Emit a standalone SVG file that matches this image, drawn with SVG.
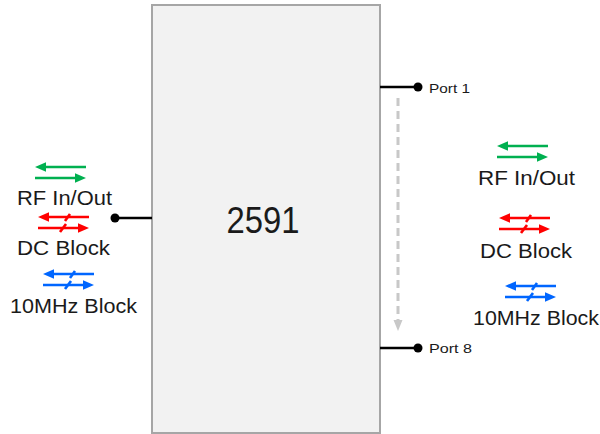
<svg xmlns="http://www.w3.org/2000/svg" xmlns:xlink="http://www.w3.org/1999/xlink" width="600" height="434" viewBox="0 0 600 434">
<style>
.lbl{font-family:"Liberation Sans",Arial,sans-serif;font-size:20px;fill:#1a1a1a}
.port{font-family:"Liberation Sans",Arial,sans-serif;font-size:13.5px;fill:#1a1a1a}
.ln{stroke:currentColor;stroke-width:2.6;fill:none}
.hd{fill:currentColor;stroke:none}
.wire{stroke:#000;stroke-width:2.5}
</style>
<defs>
<g id="pair">
<line class="ln" x1="8" y1="0" x2="51" y2="0"/>
<polygon class="hd" points="0,0 11,-4.8 11,4.8"/>
<line class="ln" x1="0" y1="11" x2="43" y2="11"/>
<polygon class="hd" points="51,11 40,6.2 40,15.8"/>
</g>
<g id="pairBlk">
<use xlink:href="#pair"/>
<line class="ln" stroke-width="1.8" x1="27" y1="4" x2="32" y2="-3"/>
<line class="ln" stroke-width="1.8" x1="22" y1="15" x2="28" y2="7"/>
</g>
</defs>
<rect width="600" height="434" fill="#fff"/>
<g id="device">
<rect x="152" y="5" width="228" height="428" fill="#f2f2f2" stroke="#a6a6a6" stroke-width="2"/>
<text x="263" y="233" text-anchor="middle" font-family="Liberation Sans, Arial, sans-serif" font-size="36" fill="#1a1a1a" textLength="73" lengthAdjust="spacingAndGlyphs">2591</text>
</g>
<g id="connectors">
<line class="wire" x1="115" y1="218" x2="152" y2="218"/>
<circle cx="115" cy="218" r="4.5" fill="#000"/>
<line class="wire" x1="380" y1="87" x2="418" y2="87"/>
<circle cx="418" cy="87" r="4.5" fill="#000"/>
<line class="wire" x1="380" y1="348" x2="418" y2="348"/>
<circle cx="418" cy="348" r="4.5" fill="#000"/>
<line x1="398" y1="98" x2="398" y2="321" stroke="#c8c8c8" stroke-width="3" stroke-dasharray="8,5"/>
<polygon points="398,331 393.5,320 402.5,320" fill="#c8c8c8"/>
</g>
<g id="port1"><text class="port" x="429" y="93" textLength="41" lengthAdjust="spacingAndGlyphs">Port 1</text></g>
<g id="port8"><text class="port" x="429" y="353" textLength="43" lengthAdjust="spacingAndGlyphs">Port 8</text></g>
<g id="legend-left">
<use xlink:href="#pair" x="35" y="167" color="#00b050"/>
<text class="lbl" x="17" y="205" textLength="95" lengthAdjust="spacingAndGlyphs">RF In/Out</text>
<use xlink:href="#pairBlk" x="38" y="217" color="#ff0000"/>
<text class="lbl" x="17" y="255" textLength="93" lengthAdjust="spacingAndGlyphs">DC Block</text>
<use xlink:href="#pairBlk" x="43" y="274" color="#0066ff"/>
<text class="lbl" x="10" y="313" textLength="127" lengthAdjust="spacingAndGlyphs">10MHz Block</text>
</g>
<g id="legend-right">
<use xlink:href="#pair" x="497" y="146" color="#00b050"/>
<text class="lbl" x="478" y="185" textLength="97" lengthAdjust="spacingAndGlyphs">RF In/Out</text>
<use xlink:href="#pairBlk" x="499" y="218" color="#ff0000"/>
<text class="lbl" x="480" y="258" textLength="92" lengthAdjust="spacingAndGlyphs">DC Block</text>
<use xlink:href="#pairBlk" x="505" y="286" color="#0066ff"/>
<text class="lbl" x="473" y="325" textLength="126" lengthAdjust="spacingAndGlyphs">10MHz Block</text>
</g>
</svg>
